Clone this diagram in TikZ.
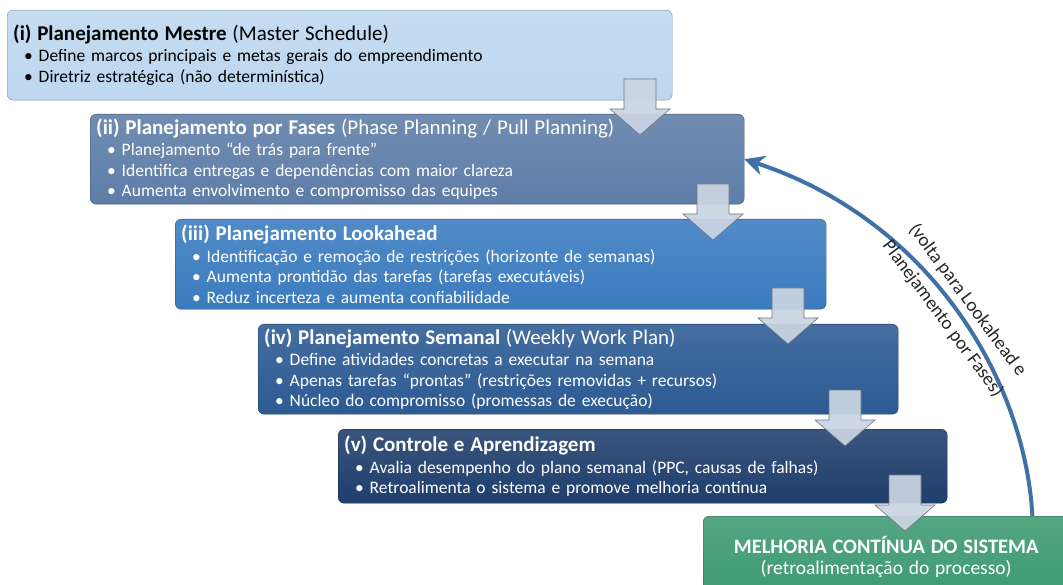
\documentclass[tikz,border=0pt]{standalone}
\usepackage{fontspec}
\setmainfont{Carlito}
\usetikzlibrary{arrows.meta}
\definecolor{mestreblue}{HTML}{BDD7EF}
\definecolor{fasesblue}{HTML}{5E7DA7}
\definecolor{lookblue}{HTML}{3A7BBF}
\definecolor{semanablue}{HTML}{2C5A93}
\definecolor{controleblue}{HTML}{1F3E6C}
\definecolor{melhoriagreen}{HTML}{3D9A70}
\definecolor{setagray}{HTML}{CAD5E2}
\definecolor{voltablue}{HTML}{3F71A6}
\newcommand{\titulo}[2]{{\fontsize{21}{24}\selectfont\textbf{#1} #2}\\[1pt]}
\newcommand{\topico}{\hspace*{11pt}\textbullet\ }

\begin{document}
\begin{tikzpicture}[x=1pt,y=-1pt,
    etapa/.style={draw=#1!65!black, top color=#1!88!white, bottom color=#1, rounded corners=6pt,
        anchor=north west, align=left, inner xsep=6pt, text=white,
        font=\fontsize{17.5}{20.5}\selectfont, minimum height=90pt},
    seta/.style={fill=setagray, draw=setagray!55!black, fill opacity=0.93, line width=0.6pt}]
    \useasboundingbox (0,0) rectangle (1063,585);

    \node[etapa=mestreblue, text=black, minimum width=665pt, text width=653pt] (mestre) at (7,10)
        {\titulo{(i) Planejamento Mestre}{(Master Schedule)}
         \topico Define marcos principais e metas gerais do empreendimento\\
         \topico Diretriz estratégica (não determinística)};
    \node[etapa=fasesblue, minimum width=654pt, text width=642pt] (fases) at (90,114)
        {\titulo{(ii) Planejamento por Fases}{(Phase Planning / Pull Planning)}
         \topico Planejamento “de trás para frente”\\
         \topico Identifica entregas e dependências com maior clareza\\
         \topico Aumenta envolvimento e compromisso das equipes};
    \node[etapa=lookblue, minimum width=651pt, text width=639pt] (lookahead) at (175,219)
        {\titulo{(iii) Planejamento Lookahead}{}
         \topico Identificação e remoção de restrições (horizonte de semanas)\\
         \topico Aumenta prontidão das tarefas (tarefas executáveis)\\
         \topico Reduz incerteza e aumenta confiabilidade};
    \node[etapa=semanablue, minimum width=640pt, text width=628pt] (semanal) at (258,324)
        {\titulo{(iv) Planejamento Semanal}{(Weekly Work Plan)}
         \topico Define atividades concretas a executar na semana\\
         \topico Apenas tarefas “prontas” (restrições removidas + recursos)\\
         \topico Núcleo do compromisso (promessas de execução)};
    \node[etapa=controleblue, minimum width=609pt, minimum height=74pt, text width=597pt] (controle) at (338,429)
        {\titulo{(v) Controle e Aprendizagem}{}
         \topico Avalia desempenho do plano semanal (PPC, causas de falhas)\\
         \topico Retroalimenta o sistema e promove melhoria contínua};
    \node[etapa=melhoriagreen, minimum width=366pt, minimum height=82pt, align=center, text width=354pt] (melhoria) at (703,516)
        {{\fontsize{20.5}{24}\selectfont\textbf{MELHORIA CONTÍNUA DO SISTEMA}}\\
         {\fontsize{19.5}{23}\selectfont(retroalimentação do processo)}};

    % setas entre as etapas
    \foreach \x/\y in {640/79, 713/184, 788/288, 845/390, 905/475}
        \draw[seta] (\x-16,\y) -- (\x+16,\y) -- (\x+16,\y+30) -- (\x+30,\y+30) -- (\x,\y+56)
            -- (\x-30,\y+30) -- (\x-16,\y+30) -- cycle;

    % retorno
    \draw[voltablue, line width=4pt, -{Stealth[length=20pt,width=20pt]}]
        ([xshift=-37pt]melhoria.north east) .. controls (1025,380) and (930,220) .. (fases.east)
        node[pos=0.5, sloped, text=black!85, align=center, font=\fontsize{19}{31}\selectfont]
            {(volta para Lookahead e\\Planejamento por Fases)};
\end{tikzpicture}
\end{document}
